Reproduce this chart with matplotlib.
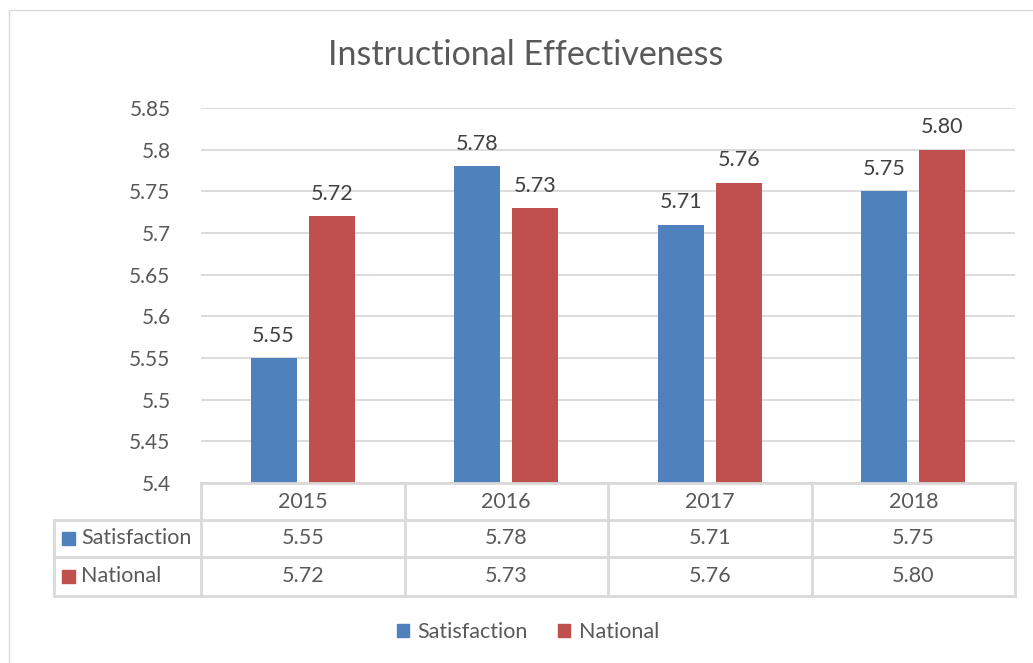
import matplotlib
matplotlib.use("Agg")
import matplotlib.pyplot as plt
from matplotlib.lines import Line2D
from matplotlib.patches import Patch, Rectangle
import numpy as np

years = ["2015", "2016", "2017", "2018"]
satisfaction = [5.55, 5.78, 5.71, 5.75]
national = [5.72, 5.73, 5.76, 5.80]
series_names = ["Satisfaction", "National"]
yticks = [5.4, 5.45, 5.5, 5.55, 5.6, 5.65, 5.7, 5.75, 5.8, 5.85]

BLUE, RED = "#4F81BD", "#C0504D"
GRID = "#D9D9D9"
TXT = "#595959"
LBL = "#404040"
FS = 15.5

plt.rcParams["font.family"] = ["Lato", "DejaVu Sans"]

W, H = 1033, 663
fig = plt.figure(figsize=(W / 100, H / 100), dpi=100)

def fx(px): return px / W
def fy(py): return 1 - py / H

# outer chart frame (top/left edges visible)
fig.add_artist(Rectangle((fx(9), -0.1), 1.2, fy(10) + 0.1, transform=fig.transFigure,
                         fill=False, ec=GRID, lw=1))

x0, x1, ytop, ybot = 201, 1015, 108, 483
ax = fig.add_axes([fx(x0), fy(ybot), fx(x1) - fx(x0), fy(ytop) - fy(ybot)])
x = np.arange(len(years))
w, off = 0.226, 0.143
b1 = ax.bar(x - off, satisfaction, w, color=BLUE, zorder=3)
b2 = ax.bar(x + off, national, w, color=RED, zorder=3)
for bars, vals in ((b1, satisfaction), (b2, national)):
    for r, v in zip(bars, vals):
        ax.annotate(f"{v:.2f}", (r.get_x() + r.get_width() / 2, v), xytext=(0, 9),
                    textcoords="offset points", ha="center", va="bottom",
                    fontsize=FS, color=LBL)

ax.set_xlim(-0.5, len(years) - 0.5)
ax.set_ylim(yticks[0], yticks[-1])
ax.set_yticks(yticks)
ax.set_yticklabels([f"{t:g}" for t in yticks], fontsize=FS - 0.5, color=TXT)
ax.tick_params(axis="y", length=0, pad=22)
ax.set_xticks([])
ax.grid(axis="y", color=GRID, lw=1.3, zorder=0)
for s in ax.spines.values():
    s.set_visible(False)
fig.text(fx(526), fy(55), "Instructional Effectiveness", ha="center", va="center",
         fontsize=24.5, color=TXT)

# data table under the plot
rows = [483, 520, 557, 596]
cols = [x0 + (x1 - x0) * i / len(years) for i in range(len(years) + 1)]
left = 54
def hline(py, xa, xb):
    fig.add_artist(Line2D([fx(xa), fx(xb)], [fy(py), fy(py)], color=GRID, lw=2,
                          transform=fig.transFigure))
def vline(px, ya, yb):
    fig.add_artist(Line2D([fx(px), fx(px)], [fy(ya), fy(yb)], color=GRID, lw=2,
                          transform=fig.transFigure))
hline(rows[0], x0, x1)
for py in rows[1:]:
    hline(py, left, x1)
for px in cols:
    vline(px, rows[0], rows[-1])
vline(left, rows[1], rows[-1])

for i, yr in enumerate(years):
    cx = (cols[i] + cols[i + 1]) / 2
    fig.text(fx(cx), fy((rows[0] + rows[1]) / 2), yr, ha="center", va="center",
             fontsize=FS, color=TXT)
    for r, vals in enumerate((satisfaction, national)):
        fig.text(fx(cx), fy((rows[r + 1] + rows[r + 2]) / 2), f"{vals[i]:.2f}",
                 ha="center", va="center", fontsize=FS, color=TXT)
for r, (name, c) in enumerate(zip(series_names, (BLUE, RED))):
    cy = (rows[r + 1] + rows[r + 2]) / 2
    fig.add_artist(Rectangle((fx(62), fy(cy + 6.5)), fx(13), 13 / H, color=c,
                             transform=fig.transFigure))
    fig.text(fx(81), fy(cy), name, ha="left", va="center", fontsize=FS, color=TXT)

handles = [Patch(color=BLUE), Patch(color=RED)]
fig.legend(handles, series_names, loc="center", bbox_to_anchor=(fx(528), fy(632)),
           ncol=2, frameon=False, fontsize=FS, labelcolor=TXT,
           handlelength=0.55, handleheight=0.55, handletextpad=0.4, columnspacing=1.4)

fig.savefig("out.png", dpi=100, facecolor="white")
